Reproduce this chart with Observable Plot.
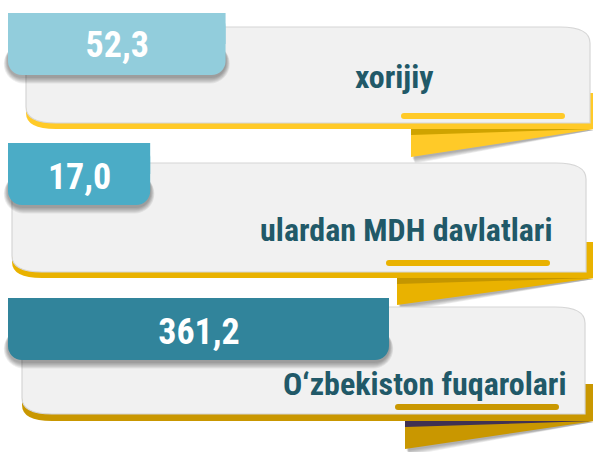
<!DOCTYPE html>
<html><head><meta charset="utf-8">
<script src="https://cdn.jsdelivr.net/npm/d3@7"></script>
<script src="https://cdn.jsdelivr.net/npm/@observablehq/plot@0.6"></script>
<style>html,body{margin:0;padding:0;background:#fff} svg{display:block}</style>
</head><body><div id="chart"></div>
<script>
// ---- data ----
const categories = ["xorijiy", "ulardan MDH davlatlari", "O\u2018zbekiston fuqarolari"];
const values = [52.3, 17.0, 361.2];
const valueLabels = ["52,3", "17,0", "361,2"];

// ---- layout / styles (not data) ----
const W = 593, H = 452;
const tabColors = ["#92cddc", "#4bacc6", "#31849b"];
const golds = ["#ffca28", "#e9b200", "#c99700"];
const bands = ["#cfa300", "#c49600", "#403152"];
const rowLayout = [
  {tabTop: 13, panelX: 26, panelTop: 27, greyBottom: 123, yellowBottom: 129, right: 590, foldX: 411, foldBottom: 157, valueBase: 56, textEnd: 433, textBase: 87, ulX1: 401, ulX2: 565, ulY: 113},
  {tabTop: 143, panelX: 12, panelTop: 163, greyBottom: 272, yellowBottom: 278, right: 586, foldX: 397, foldBottom: 305, valueBase: 188, textEnd: 552, textBase: 240, ulX1: 386, ulX2: 550, ulY: 260},
  {tabTop: 298, panelX: 22, panelTop: 307, greyBottom: 414, yellowBottom: 421, right: 585, foldX: 405, foldBottom: 449, valueBase: 343, textEnd: 566, textBase: 394, ulX1: 395, ulX2: 559, ulY: 404}
];
const TAB_H = 62;

const rows = categories.map((c, i) => ({
  category: c, value: values[i], label: valueLabels[i],
  tabColor: tabColors[i], ...rowLayout[i]
}));

// x scale: value -> tab right edge (compressed power scale)
const X_EXP = 0.15, X_BASE = 1;
const xDomain = [X_BASE, d3.max(values)];
const xRange = [8, 389];
const xs = d3.scalePow().exponent(X_EXP).domain(xDomain).range(xRange);

const labelFont = "'Roboto Condensed','Liberation Sans Narrow','DejaVu Sans Condensed','Roboto',sans-serif";

const plot = Plot.plot({
  width: W, height: H,
  margin: 0,
  style: {background: "transparent", overflow: "visible"},
  x: {type: "pow", exponent: X_EXP, domain: xDomain, range: xRange, axis: null},
  y: {type: "identity", axis: null},
  color: {type: "identity"},
  marks: [
    // tab (rounded bottom corners)
    Plot.rect(rows, {x1: () => X_BASE, x2: "value", y1: "tabTop", y2: d => d.tabTop + TAB_H,
      fill: "tabColor", rx: 14}),
    // square top part of tab
    Plot.rect(rows, {x1: () => X_BASE, x2: "value", y1: "tabTop", y2: d => d.tabTop + TAB_H / 2,
      fill: "tabColor"}),
    // value labels centred on the tab
    Plot.text(rows, {x: d => xs.invert((xs(X_BASE) + xs(d.value)) / 2), y: "valueBase",
      text: "label", fill: "white", fontSize: 36, fontWeight: "bold",
      fontFamily: labelFont, textAnchor: "middle", lineAnchor: "bottom"}),
    // category labels
    Plot.text(rows, {x: d => xs.invert(d.textEnd), y: "textBase", text: "category",
      fill: "#215968", fontSize: 32, fontWeight: "bold", fontFamily: labelFont,
      textAnchor: "end", lineAnchor: "bottom"})
  ]
});

document.getElementById("chart").appendChild(plot);

// ---- decorations (cards, gold strips, folds) behind the marks ----
const svg = d3.select(plot);
const firstMark = plot.querySelector("g[aria-label]") || null;
const deco = d3.select(plot.insertBefore(document.createElementNS("http://www.w3.org/2000/svg", "g"), firstMark));
const shade = d3.select(plot.insertBefore(document.createElementNS("http://www.w3.org/2000/svg", "g"), firstMark));

const R = 30, Rv = 16;
rows.forEach((r, i) => {
  const g = deco.append("g");
  // fold shadow (layered soft shadow)
  for (let k = 5; k >= 1; k--) {
    g.append("path")
      .attr("d", `M${r.foldX + 1},${r.yellowBottom + 2} L${W + 2},${r.yellowBottom + 1} L${r.foldX + 1 + k * 0.6},${r.foldBottom + 1 + k * 1.1} Z`)
      .attr("fill", "#000").attr("fill-opacity", 0.07);
  }
  // fold (ribbon tail)
  g.append("path")
    .attr("d", `M${r.foldX},${r.yellowBottom} L${W + 2},${r.yellowBottom} L${r.foldX},${r.foldBottom} Z`)
    .attr("fill", golds[i]);
  g.append("path")
    .attr("d", `M${r.foldX},${r.yellowBottom} L${W + 2},${r.yellowBottom} L${r.foldX},${r.yellowBottom + 6} Z`)
    .attr("fill", bands[i]);
  // gold strip under the card
  const yt = r.greyBottom - 30;
  g.append("path")
    .attr("d", `M${r.panelX},${yt} L${W + 2},${yt} L${W + 2},${r.yellowBottom} L${r.panelX + R},${r.yellowBottom} Q${r.panelX},${r.yellowBottom} ${r.panelX},${r.yellowBottom - Rv} Z`)
    .attr("fill", golds[i]);
  // grey card
  g.append("path")
    .attr("d", `M${r.panelX},${r.panelTop} L${r.right - R},${r.panelTop} Q${r.right},${r.panelTop} ${r.right},${r.panelTop + Rv} L${r.right},${r.greyBottom} L${r.panelX + R},${r.greyBottom} Q${r.panelX},${r.greyBottom} ${r.panelX},${r.greyBottom - Rv} Z`)
    .attr("fill", "#f1f1f1").attr("stroke", "#d6d6d6").attr("stroke-width", 1.2);
  // underline pill
  g.append("rect")
    .attr("x", r.ulX1).attr("y", r.ulY).attr("width", r.ulX2 - r.ulX1).attr("height", 6)
    .attr("rx", 3).attr("fill", golds[i]);

  // soft shadow under the tab (drawn above the card, below the tab)
  const x0 = xs(X_BASE), x1 = xs(r.value);
  for (let k = 6; k >= 1; k--) {
    shade.append("rect")
      .attr("x", x0 - k * 0.7).attr("y", r.tabTop + TAB_H / 2)
      .attr("width", x1 - x0 + k * 1.4).attr("height", TAB_H / 2 + 2 + k * 1.1)
      .attr("rx", 14 + k).attr("fill", "#000").attr("fill-opacity", 0.065);
  }
});
</script>
</body></html>
